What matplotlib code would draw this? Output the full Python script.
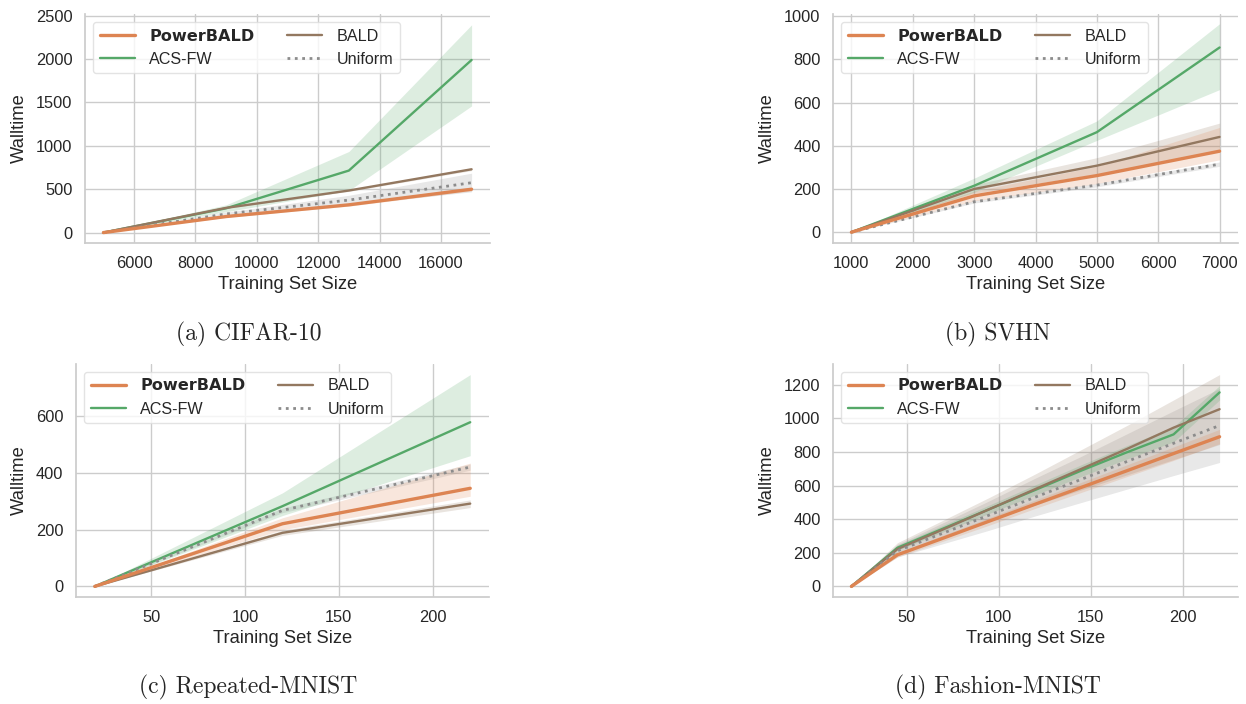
import numpy as np
import matplotlib
matplotlib.use("Agg")
import matplotlib.pyplot as plt
import seaborn as sns

# -----------------------------
# Data
# -----------------------------
cifar_x = [5000, 9000, 13000, 17000]
cifar_power = [0, 185, 320, 500]
cifar_power_lo = [0, 175, 305, 480]
cifar_power_hi = [0, 195, 335, 520]
cifar_acs = [0, 280, 715, 1990]
cifar_acs_lo = [0, 240, 485, 1460]
cifar_acs_hi = [0, 320, 935, 2395]
cifar_bald = [0, 285, 485, 730]
cifar_bald_lo = [0, 280, 475, 715]
cifar_bald_hi = [0, 290, 495, 745]
cifar_unif = [0, 215, 375, 575]
cifar_unif_lo = [0, 195, 320, 470]
cifar_unif_hi = [0, 235, 430, 685]

svhn_x = [1000, 3000, 5000, 7000]
svhn_power = [0, 168, 262, 375]
svhn_power_lo = [0, 145, 225, 335]
svhn_power_hi = [0, 190, 305, 485]
svhn_acs = [0, 215, 463, 855]
svhn_acs_lo = [0, 185, 425, 660]
svhn_acs_hi = [0, 250, 515, 965]
svhn_bald = [0, 200, 308, 441]
svhn_bald_lo = [0, 180, 270, 375]
svhn_bald_hi = [0, 220, 345, 505]
svhn_unif = [0, 141, 218, 315]
svhn_unif_lo = [0, 135, 210, 305]
svhn_unif_hi = [0, 147, 226, 325]

rmnist_x = [20, 120, 220]
rmnist_power = [0, 221, 346]
rmnist_power_lo = [0, 200, 318]
rmnist_power_hi = [0, 242, 435]
rmnist_acs = [0, 283, 579]
rmnist_acs_lo = [0, 250, 461]
rmnist_acs_hi = [0, 330, 747]
rmnist_bald = [0, 189, 292]
rmnist_bald_lo = [0, 180, 278]
rmnist_bald_hi = [0, 198, 305]
rmnist_unif = [0, 268, 421]
rmnist_unif_lo = [0, 260, 410]
rmnist_unif_hi = [0, 276, 432]

fmnist_x = [20, 45, 70, 95, 120, 145, 170, 195, 220]
fmnist_power = [0, 188, 288, 389, 490, 590, 690, 791, 891]
fmnist_power_lo = [0, 175, 270, 365, 465, 560, 655, 750, 850]
fmnist_power_hi = [0, 200, 305, 410, 515, 620, 725, 830, 935]
fmnist_acs = [0, 230, 345, 460, 575, 690, 800, 905, 1155]
fmnist_acs_lo = [0, 215, 325, 435, 545, 655, 760, 860, 1110]
fmnist_acs_hi = [0, 245, 365, 485, 605, 725, 840, 950, 1195]
fmnist_bald = [0, 222, 340, 460, 580, 700, 820, 945, 1055]
fmnist_bald_lo = [0, 195, 290, 390, 485, 575, 665, 755, 845]
fmnist_bald_hi = [0, 260, 395, 530, 670, 815, 960, 1110, 1261]
fmnist_unif = [0, 212, 318, 425, 532, 638, 745, 852, 958]
fmnist_unif_lo = [0, 175, 255, 335, 420, 500, 580, 660, 738]
fmnist_unif_hi = [0, 250, 380, 510, 645, 775, 910, 1045, 1178]

captions = ["(a) CIFAR-10", "(b) SVHN", "(c) Repeated-MNIST", "(d) Fashion-MNIST"]

# -----------------------------
# Style
# -----------------------------
sns.set_theme(style="whitegrid")
plt.rcParams["font.family"] = ["Liberation Sans", "DejaVu Sans"]
pal = sns.color_palette("deep")
c_power, c_acs, c_bald, c_unif = pal[1], pal[2], pal[5], pal[7]

W, H = 1246, 704
fig = plt.figure(figsize=(W / 100, H / 100), dpi=100)


def px_axes(left, right, top, bottom):
    return fig.add_axes([left / W, 1 - bottom / H, (right - left) / W, (bottom - top) / H])


panels = [
    (px_axes(85, 490, 14, 243), cifar_x,
     (cifar_power, cifar_power_lo, cifar_power_hi), (cifar_acs, cifar_acs_lo, cifar_acs_hi),
     (cifar_bald, cifar_bald_lo, cifar_bald_hi), (cifar_unif, cifar_unif_lo, cifar_unif_hi)),
    (px_axes(833, 1238, 14, 243), svhn_x,
     (svhn_power, svhn_power_lo, svhn_power_hi), (svhn_acs, svhn_acs_lo, svhn_acs_hi),
     (svhn_bald, svhn_bald_lo, svhn_bald_hi), (svhn_unif, svhn_unif_lo, svhn_unif_hi)),
    (px_axes(76, 489, 364, 597), rmnist_x,
     (rmnist_power, rmnist_power_lo, rmnist_power_hi), (rmnist_acs, rmnist_acs_lo, rmnist_acs_hi),
     (rmnist_bald, rmnist_bald_lo, rmnist_bald_hi), (rmnist_unif, rmnist_unif_lo, rmnist_unif_hi)),
    (px_axes(833, 1238, 364, 597), fmnist_x,
     (fmnist_power, fmnist_power_lo, fmnist_power_hi), (fmnist_acs, fmnist_acs_lo, fmnist_acs_hi),
     (fmnist_bald, fmnist_bald_lo, fmnist_bald_hi), (fmnist_unif, fmnist_unif_lo, fmnist_unif_hi)),
]

for ax, x, power, acs, bald, unif in panels:
    # bands first, lines on top
    for (m, lo, hi), col in [(unif, c_unif), (bald, c_bald), (power, c_power), (acs, c_acs)]:
        ax.fill_between(x, lo, hi, color=col, alpha=0.2, linewidth=0)
    ax.plot(x, power[0], color=c_power, lw=2.4, label="PowerBALD", zorder=5)
    ax.plot(x, acs[0], color=c_acs, lw=1.7, label="ACS-FW", zorder=4)
    ax.plot(x, bald[0], color=c_bald, lw=1.7, label="BALD", zorder=4)
    ax.plot(x, unif[0], color=c_unif, lw=2.0, ls=":", label="Uniform", zorder=4)

    ax.set_xlabel("Training Set Size", fontsize=13.2, labelpad=4)
    ax.set_ylabel("Walltime", fontsize=13.2, labelpad=6)
    ax.tick_params(labelsize=11.8, pad=3)
    sns.despine(ax=ax)
    for s in ("left", "bottom"):
        ax.spines[s].set_color("#cccccc")

    leg = ax.legend(loc="upper left", ncol=2, fontsize=11.6, frameon=True,
                    columnspacing=2.0, handlelength=2.2, handletextpad=0.9,
                    borderaxespad=0.5)
    leg.get_frame().set_edgecolor("#dddddd")
    leg.get_texts()[0].set_fontfamily("DejaVu Sans")
    leg.get_texts()[0].set_fontweight("bold")

panels[0][0].set_yticks([0, 500, 1000, 1500, 2000, 2500])
panels[0][0].set_ylim(-120, 2520)
panels[0][0].set_xticks([6000, 8000, 10000, 12000, 14000, 16000])
panels[1][0].set_yticks([0, 200, 400, 600, 800, 1000])
panels[1][0].set_ylim(-50, 1010)
panels[1][0].set_xticks([1000, 2000, 3000, 4000, 5000, 6000, 7000])
panels[2][0].set_yticks([0, 200, 400, 600])
panels[2][0].set_xticks([50, 100, 150, 200])
panels[3][0].set_yticks([0, 200, 400, 600, 800, 1000, 1200])
panels[3][0].set_xticks([50, 100, 150, 200])

cap_pos = [(249, 334), (998, 334), (248, 687), (998, 687)]
for text, (cx, cy) in zip(captions, cap_pos):
    fig.text(cx / W, 1 - cy / H, text, ha="center", va="center", fontsize=17,
             family=["cmr10", "DejaVu Serif"])

fig.savefig("out.png", dpi=100)
